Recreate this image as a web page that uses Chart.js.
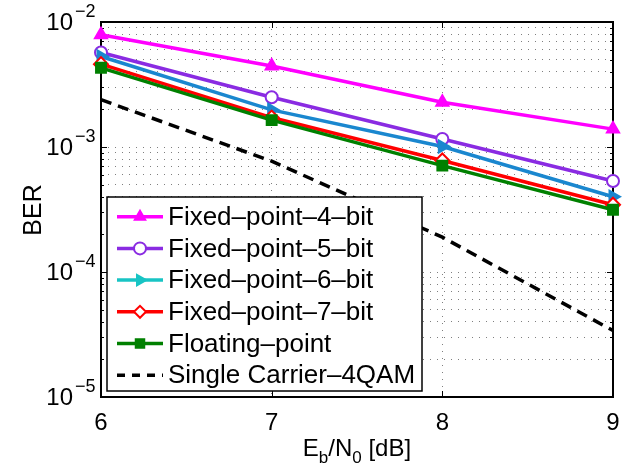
<!DOCTYPE html>
<html>
<head>
<meta charset="utf-8">
<script src="https://cdn.jsdelivr.net/npm/chart.js@4.4.1/dist/chart.umd.min.js"></script>
<style>
    html, body { margin: 0; padding: 0; background: #fff; }
</style>
</head>
<body>
<canvas id="ber" width="632" height="472"></canvas>
<script>
// data
var ebn0 = [6, 7, 8, 9];
var berFixed4 = [7.9e-3, 4.45e-3, 2.28e-3, 1.39e-3];
var berFixed5 = [5.7e-3, 2.5e-3, 1.16e-3, 5.35e-4];
var berFixed6 = [5.3e-3, 1.98e-3, 1.01e-3, 4.0e-4];
var berFixed7 = [4.6e-3, 1.72e-3, 7.8e-4, 3.45e-4];
var berFloat = [4.3e-3, 1.64e-3, 7.1e-4, 3.15e-4];
var berSingle = [2.39e-3, 7.7e-4, 1.9e-4, 3.4e-5];
var seriesNames = ['Fixed\u2013point\u20134\u2013bit', 'Fixed\u2013point\u20135\u2013bit', 'Fixed\u2013point\u20136\u2013bit',
                   'Fixed\u2013point\u20137\u2013bit', 'Floating\u2013point', 'Single Carrier\u20134QAM'];
var xTickValues = [6, 7, 8, 9];
var yDecades = [-2, -3, -4, -5];

var FONT = "'Liberation Sans', Arial, Helvetica, sans-serif";

var lineColors = ['#ff00ff', '#8a2be2', '#1a87cf', '#ff0000', '#008000', '#000000'];
var legendColors = ['#ff00ff', '#8a2be2', '#18c4c4', '#ff0000', '#008000', '#000000'];
var markers = ['triangle', 'circle', 'triangle', 'rectRot', 'rect', false];
var markerRot = [0, 0, 90, 0, 0, 0];
var markerFill = ['#ff00ff', '#ffffff', '#1a87cf', '#ffffff', '#008000', '#000000'];
var allSeries = [berFixed4, berFixed5, berFixed6, berFixed7, berFloat, berSingle];

function toPoints(ys) {
    return ebn0.map(function(x, i) { return { x: x, y: ys[i] }; });
}

var datasets = allSeries.map(function(ys, i) {
    return {
        label: seriesNames[i],
        data: toPoints(ys),
        borderColor: lineColors[i],
        backgroundColor: markerFill[i],
        pointBorderColor: lineColors[i],
        pointBackgroundColor: markerFill[i],
        borderWidth: 3.5,
        borderDash: i === 5 ? [11, 7] : [],
        pointStyle: markers[i],
        pointRotation: markerRot[i],
        pointRadius: markers[i] ? (i === 1 ? 6 : 7) : 0,
        pointBorderWidth: 2,
        tension: 0,
        clip: false,
        order: allSeries.length - i
    };
});

var decor = {
    id: 'decor',
    beforeDatasetsDraw: function(chart) {
        var ctx = chart.ctx, a = chart.chartArea;
        var ys = chart.scales.y, xs = chart.scales.x;
        ctx.save();
        ctx.strokeStyle = '#000';
        ctx.lineWidth = 1;
        // inner tick marks like matlab
        ys.ticks.forEach(function(t) {
            var y = Math.round(ys.getPixelForValue(t.value)) + 0.5;
            var len = Math.abs(Math.log10(t.value) % 1) < 1e-9 ? 6 : 3;
            ctx.beginPath();
            ctx.moveTo(a.left, y); ctx.lineTo(a.left + len, y);
            ctx.moveTo(a.right, y); ctx.lineTo(a.right - len, y);
            ctx.stroke();
        });
        xTickValues.forEach(function(v) {
            var x = Math.round(xs.getPixelForValue(v)) + 0.5;
            ctx.beginPath();
            ctx.moveTo(x, a.bottom); ctx.lineTo(x, a.bottom - 6);
            ctx.moveTo(x, a.top); ctx.lineTo(x, a.top + 6);
            ctx.stroke();
        });
        ctx.lineWidth = 2;
        ctx.strokeRect(a.left, a.top, a.right - a.left, a.bottom - a.top);
        ctx.restore();
    },
    afterDraw: function(chart) {
        var ctx = chart.ctx, a = chart.chartArea;
        var ys = chart.scales.y;
        ctx.save();
        ctx.fillStyle = '#000';

        // y tick labels 10^n
        yDecades.forEach(function(e) {
            var y = ys.getPixelForValue(Math.pow(10, e));
            ctx.font = '24px ' + FONT;
            ctx.textAlign = 'right';
            ctx.textBaseline = 'middle';
            ctx.fillText('10', 73, y + 1);
            ctx.font = '18px ' + FONT;
            ctx.textAlign = 'left';
            ctx.fillText('\u2212' + Math.abs(e), 75, y - 10);
        });

        // y title
        ctx.save();
        ctx.translate(34, 210);
        ctx.rotate(-Math.PI / 2);
        ctx.font = '25px ' + FONT;
        ctx.textAlign = 'center';
        ctx.textBaseline = 'middle';
        ctx.fillText('BER', 0, 0);
        ctx.restore();

        // x title E_b/N_0 [dB]
        var parts = [['E', 0], ['b', 1], ['/N', 0], ['0', 1], [' [dB]', 0]];
        var big = '24px ' + FONT, small = '17px ' + FONT;
        var total = 0;
        parts.forEach(function(p) {
            ctx.font = p[1] ? small : big;
            total += ctx.measureText(p[0]).width;
        });
        var cx = (a.left + a.right) / 2 - total / 2;
        ctx.textAlign = 'left';
        ctx.textBaseline = 'alphabetic';
        parts.forEach(function(p) {
            ctx.font = p[1] ? small : big;
            ctx.fillText(p[0], cx, p[1] ? 463 : 456);
            cx += ctx.measureText(p[0]).width;
        });

        // legend box
        var lx = 107, ly = 197, lw = 315, lh = 194;
        ctx.fillStyle = '#fff';
        ctx.fillRect(lx, ly, lw, lh);
        ctx.strokeStyle = '#000';
        ctx.lineWidth = 1.5;
        ctx.strokeRect(lx, ly, lw, lh);
        chart.data.datasets.forEach(function(ds, i) {
            var cy = 216.7 + i * 31.7;
            ctx.strokeStyle = legendColors[i];
            ctx.lineWidth = 3.5;
            ctx.setLineDash(i === 5 ? [8, 7] : []);
            ctx.beginPath();
            ctx.moveTo(117, cy); ctx.lineTo(163, cy);
            ctx.stroke();
            ctx.setLineDash([]);
            if (ds.pointStyle) {
                ctx.fillStyle = ds.pointBackgroundColor === '#ffffff' ? '#ffffff' : legendColors[i];
                ctx.lineWidth = 2;
                Chart.helpers.drawPoint(ctx, {
                    pointStyle: ds.pointStyle, rotation: ds.pointRotation, radius: 6, borderWidth: 2
                }, 140, cy);
            }
            ctx.fillStyle = '#000';
            ctx.font = '26px ' + FONT;
            ctx.textAlign = 'left';
            ctx.textBaseline = 'middle';
            ctx.fillText(ds.label, 168, cy + 1);
        });
        ctx.restore();
    }
};

var gridDots = {
    color: 'rgba(0,0,0,0.5)',
    lineWidth: 1,
    drawTicks: false
};

new Chart(document.getElementById('ber'), {
    type: 'line',
    data: { datasets: datasets },
    options: {
        responsive: false,
        animation: false,
        layout: { padding: { top: 22, right: 19, left: 0, bottom: 0 } },
        plugins: {
            legend: { display: false },
            tooltip: { enabled: false }
        },
        scales: {
            x: {
                type: 'linear',
                min: 6,
                max: 9,
                afterBuildTicks: function(scale) {
                    scale.ticks = xTickValues.map(function(v) { return { value: v }; });
                },
                afterFit: function(scale) { scale.height = 75; },
                border: { display: false, dash: [1, 6] },
                grid: gridDots,
                ticks: {
                    color: '#000',
                    padding: 12,
                    font: { family: FONT, size: 24 },
                    maxRotation: 0
                }
            },
            y: {
                type: 'logarithmic',
                min: 1e-5,
                max: 1e-2,
                afterBuildTicks: function(scale) {
                    var t = [];
                    for (var e = -5; e <= -2; e++) {
                        for (var k = 1; k < 10; k++) {
                            var v = k * Math.pow(10, e);
                            if (v <= 1.0001e-2) t.push({ value: v });
                        }
                    }
                    scale.ticks = t;
                },
                afterFit: function(scale) { scale.width = 101; },
                border: { display: false, dash: [1, 6] },
                grid: gridDots,
                ticks: { display: false }
            }
        }
    },
    plugins: [decor]
});
</script>
</body>
</html>
